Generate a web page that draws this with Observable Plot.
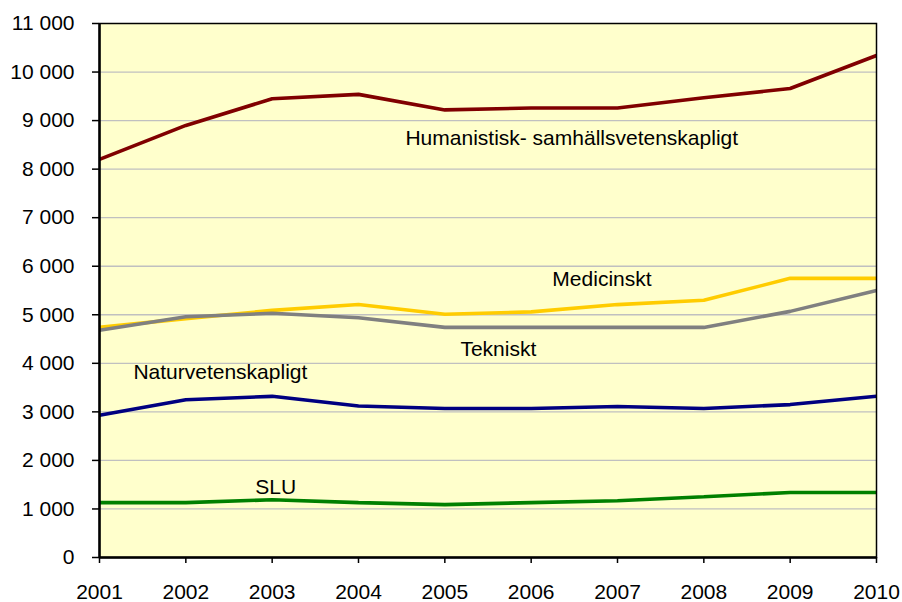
<!DOCTYPE html>
<html>
<head>
<meta charset="utf-8">
<script src="https://cdn.jsdelivr.net/npm/d3@7"></script>
<script src="https://cdn.jsdelivr.net/npm/@observablehq/plot@0.6"></script>
<style>
  html, body { margin: 0; padding: 0; background: #ffffff; }
  #chart svg { display: block; }
</style>
</head>
<body>
<div id="chart"></div>
<script>
const years = [2001, 2002, 2003, 2004, 2005, 2006, 2007, 2008, 2009, 2010];
const humanistisk = [8200, 8900, 9450, 9540, 9220, 9260, 9260, 9470, 9660, 10340];
const medicinskt = [4740, 4920, 5090, 5210, 5010, 5060, 5210, 5300, 5750, 5750];
const tekniskt = [4680, 4960, 5030, 4940, 4740, 4740, 4740, 4740, 5070, 5500];
const naturvetenskapligt = [2930, 3250, 3320, 3120, 3070, 3070, 3110, 3070, 3150, 3320];
const slu = [1130, 1130, 1190, 1130, 1090, 1130, 1170, 1250, 1340, 1340];
const yTicks = [0, 1000, 2000, 3000, 4000, 5000, 6000, 7000, 8000, 9000, 10000, 11000];

const seriesNames = ["Humanistisk- samhällsvetenskapligt", "Medicinskt", "Tekniskt", "Naturvetenskapligt", "SLU"];
const seriesValues = [humanistisk, medicinskt, tekniskt, naturvetenskapligt, slu];
const seriesColors = ["#800000", "#FFCC00", "#808080", "#000080", "#008000"];

// long table built from the arrays above
const rows = [];
seriesNames.forEach((name, i) => {
  years.forEach((yr, j) => rows.push({series: name, year: yr, value: seriesValues[i][j]}));
});

// label anchors in data units (year, value)
const labelAnchors = [
  {text: seriesNames[0], year: 2006.47, value: 8630},
  {text: seriesNames[1], year: 2006.82, value: 5730},
  {text: seriesNames[2], year: 2005.62, value: 4290},
  {text: seriesNames[3], year: 2002.40, value: 3810},
  {text: seriesNames[4], year: 2003.04, value: 1450}
];

const fmt = d => d3.format(",")(d).replace(/,/g, "\u00a0");

const chart = Plot.plot({
  width: 902,
  height: 602,
  marginLeft: 99,
  marginRight: 26,
  marginTop: 23,
  marginBottom: 45,
  style: {fontFamily: "'Liberation Sans', Arial, sans-serif", fontSize: "21px", color: "#000", background: "#fff"},
  x: {domain: [2001, 2010], label: null},
  y: {domain: [0, 11000], label: null},
  color: {domain: seriesNames, range: seriesColors},
  marks: [
    Plot.frame({fill: "#FFFFCC", stroke: null}),
    Plot.gridY(yTicks.filter(d => d > 0 && d < 11000), {stroke: "#c0c0c0", strokeOpacity: 1, strokeWidth: 1.3}),
    Plot.axisX({ticks: years, tickFormat: d => String(d), tickSize: 6, tickPadding: 21, strokeWidth: 1.5, fontSize: 21}),
    Plot.axisY({ticks: yTicks, tickFormat: fmt, tickSize: 7, tickPadding: 18, strokeWidth: 1.5, fontSize: 21}),
    Plot.line(rows, {x: "year", y: "value", z: "series", stroke: "series", strokeWidth: 3.6, strokeLinejoin: "miter", strokeLinecap: "butt"}),
    Plot.frame({stroke: "#000", strokeWidth: 1.5}),
    Plot.ruleX([2001], {stroke: "#000", strokeWidth: 2.5}),
    Plot.ruleY([0], {stroke: "#000", strokeWidth: 2.5}),
    Plot.text(labelAnchors, {x: "year", y: "value", text: "text", fontSize: 21, fill: "#000", textAnchor: "middle"})
  ]
});

document.getElementById("chart").appendChild(chart);
</script>
</body>
</html>
